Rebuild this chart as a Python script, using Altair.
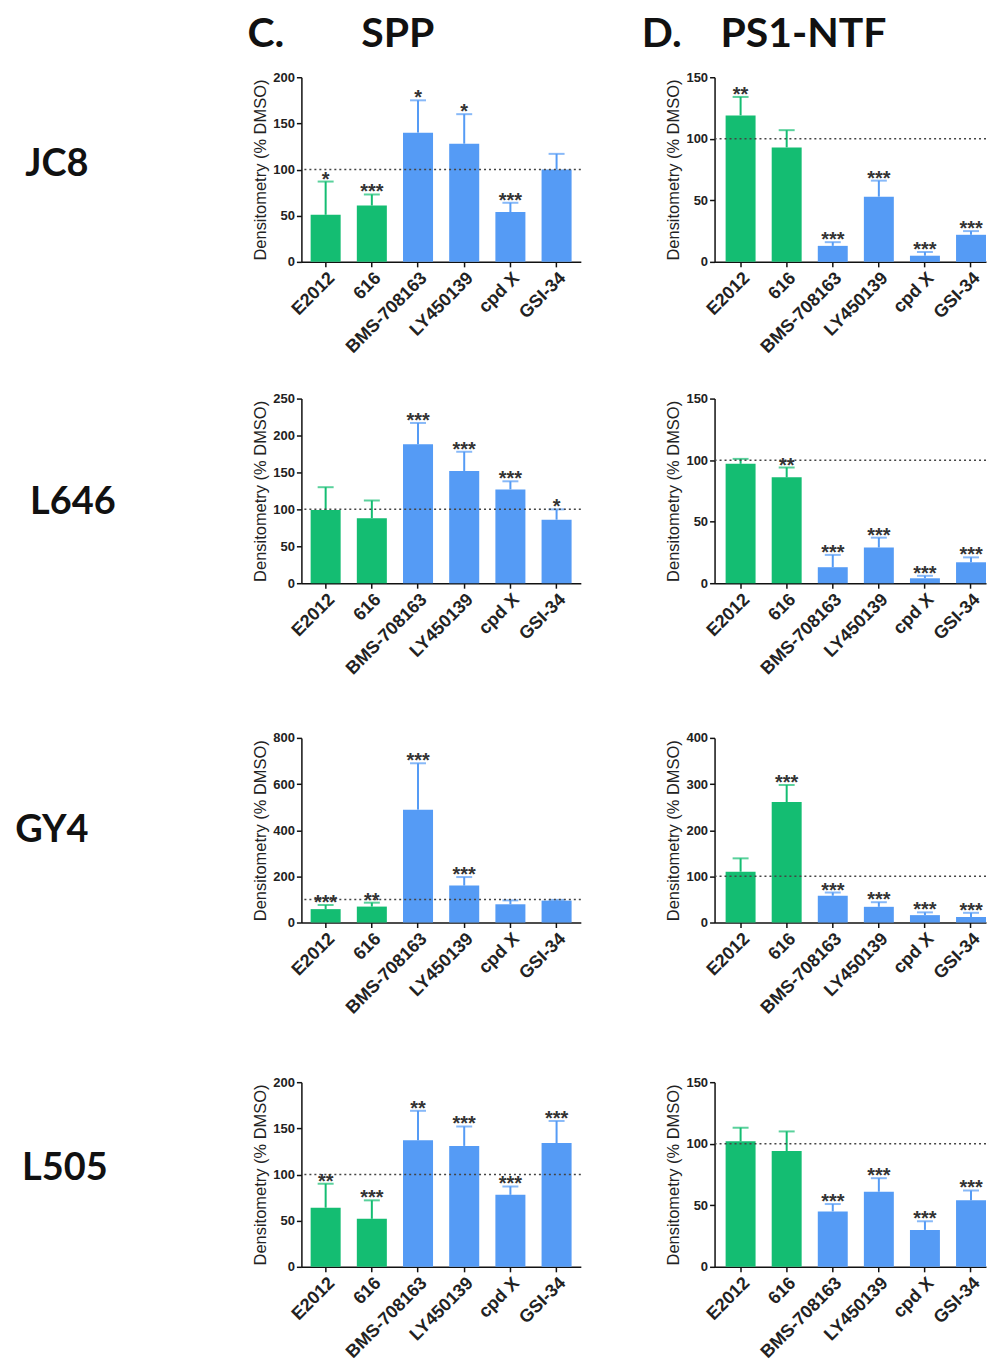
import altair as alt
import pandas as pd

# ---------------- data ----------------
compounds = ["E2012", "616", "BMS-708163", "LY450139", "cpd X", "GSI-34"]
classes = ["GSM", "GSM", "GSI", "GSI", "GSI", "GSI"]
cell_lines = ["JC8", "L646", "GY4", "L505"]

spp_mean = {
    "JC8": [51, 61, 140, 128, 54, 100],
    "L646": [99, 88, 188, 152, 127, 86],
    "GY4": [58, 69, 489, 160, 79, 95],
    "L505": [64, 52, 137, 131, 78, 134],
}
spp_upper = {
    "JC8": [87, 73, 175, 160, 64, 117],
    "L646": [130, 112, 217, 178, 138, 100],
    "GY4": [76, 86, 690, 197, 96, 98],
    "L505": [90, 72, 169, 152, 87, 158],
}
spp_sig = {
    "JC8": ["*", "***", "*", "*", "***", ""],
    "L646": ["", "", "***", "***", "***", "*"],
    "GY4": ["***", "**", "***", "***", "", ""],
    "L505": ["**", "***", "**", "***", "***", "***"],
}
ntf_mean = {
    "JC8": [119, 93, 13, 53, 5, 22],
    "L646": [97, 86, 13, 29, 4, 17],
    "GY4": [110, 261, 58, 34, 16, 12],
    "L505": [102, 94, 45, 61, 30, 54],
}
ntf_upper = {
    "JC8": [134, 107, 16, 66, 8, 25],
    "L646": [101, 94, 23, 37, 6, 21],
    "GY4": [139, 298, 65, 44, 22, 21],
    "L505": [113, 110, 51, 72, 37, 62],
}
ntf_sig = {
    "JC8": ["**", "", "***", "***", "***", "***"],
    "L646": ["", "**", "***", "***", "***", "***"],
    "GY4": ["", "***", "***", "***", "***", "***"],
    "L505": ["", "", "***", "***", "***", "***"],
}
spp_ymax = {"JC8": 200, "L646": 250, "GY4": 800, "L505": 200}
spp_step = {"JC8": 50, "L646": 50, "GY4": 200, "L505": 50}
ntf_ymax = {"JC8": 150, "L646": 150, "GY4": 400, "L505": 150}
ntf_step = {"JC8": 50, "L646": 50, "GY4": 100, "L505": 50}
reference_level = [100]

# ---------------- style / layout ----------------
GREEN = "#14BD72"
BLUE = "#559BF5"
AXIS_FONT = "Liberation Sans"
LABEL_FONT = "Lato"
YTITLE = "Densitometry (% DMSO)"
PLOT_H = 185
ROW_H = {"JC8": 316, "L646": 334, "GY4": 339, "L505": 272}
ROW_LABEL_Y = {"JC8": 88, "L646": 105, "GY4": 93, "L505": 87}
ROW_LABEL_X = {"JC8": 49, "L646": 65, "GY4": 44, "L505": 57}
LABEL_W = 161
HSPACE = 84


def panel(means, upper, sig, ymax, step, width, xscale):
    df = pd.DataFrame({"compound": compounds, "cls": classes,
                       "mean": means, "upper": upper, "sig": sig})
    xenc = alt.X("compound:N", sort=compounds, scale=xscale, title=None,
                 axis=alt.Axis(labelAngle=-45, labelFontSize=18,
                               labelFontWeight="bold", labelColor="#222",
                               labelFont=AXIS_FONT, domainColor="#111",
                               domainWidth=1.5, tickColor="#111",
                               tickWidth=1.5, tickSize=5, labelPadding=2))
    tick_values = list(range(0, ymax + 1, step))
    yscale = alt.Scale(domain=[0, ymax], nice=False, zero=True)
    yaxis = alt.Axis(values=tick_values, tickCount=len(tick_values) + 2,
                     grid=False, labelOverlap=False,
                     labelFontSize=13, labelFontWeight="bold",
                     labelColor="#222", labelFont=AXIS_FONT,
                     titleFont=AXIS_FONT, titleFontSize=16.5,
                     titleFontWeight="normal", titleColor="#222",
                     titlePadding=4, domainColor="#111", domainWidth=1.5,
                     tickColor="#111", tickWidth=1.5, tickSize=5,
                     labelPadding=2)
    color = alt.Color("cls:N", scale=alt.Scale(domain=["GSM", "GSI"],
                                               range=[GREEN, BLUE]),
                      legend=None)
    base = alt.Chart(df)
    bars = base.mark_bar().encode(
        x=xenc, y=alt.Y("mean:Q", scale=yscale, axis=yaxis, title=YTITLE),
        color=color)
    err = base.mark_rule(strokeWidth=2).encode(
        x=xenc, y=alt.Y("mean:Q", scale=yscale, title=YTITLE),
        y2="upper:Q", color=color)
    cap = base.mark_tick(thickness=2, size=16).encode(
        x=xenc, y=alt.Y("upper:Q", scale=yscale, title=YTITLE), color=color)
    stars = base.mark_text(font=AXIS_FONT, fontSize=20, fontWeight="bold",
                           color="#333", baseline="alphabetic", dy=4).encode(
        x=xenc, y=alt.Y("upper:Q", scale=yscale, title=YTITLE), text="sig:N")
    ref = alt.Chart(pd.DataFrame({"level": reference_level})).mark_rule(
        strokeDash=[2, 3], color="#444", strokeWidth=1.5).encode(
        y=alt.Y("level:Q", scale=yscale, title=YTITLE))
    return alt.layer(bars, err, cap, ref, stars).properties(
        width=width, height=PLOT_H)


c_scale = alt.Scale(paddingInner=0.35, paddingOuter=0.2)
d_scale = alt.Scale(paddingInner=0.35, paddingOuter=0.12, align=1)

rows = []
for line in cell_lines:
    lab = alt.Chart(pd.DataFrame({"t": [line]})).mark_text(
        font=LABEL_FONT, fontSize=38, fontWeight="bold", color="#111",
        align="center", baseline="middle").encode(
        text="t:N", x=alt.value(ROW_LABEL_X[line]),
        y=alt.value(ROW_LABEL_Y[line])
    ).properties(width=LABEL_W, height=ROW_H[line])
    c = panel(spp_mean[line], spp_upper[line], spp_sig[line],
              spp_ymax[line], spp_step[line], 280, c_scale)
    d = panel(ntf_mean[line], ntf_upper[line], ntf_sig[line],
              ntf_ymax[line], ntf_step[line], 272, d_scale)
    rows.append(alt.hconcat(lab, c, d, spacing=HSPACE))

hdf = pd.DataFrame({"a": [0]})


def htext(txt, x):
    return alt.Chart(hdf).mark_text(
        font=LABEL_FONT, fontSize=41, fontWeight="bold", color="#111",
        align="left", baseline="middle").encode(
        x=alt.value(x), y=alt.value(26), text=alt.datum(txt))


header = alt.layer(htext("C.", 240), htext("SPP", 354),
                   htext("D.", 635), htext("PS1-NTF", 714)).properties(
    width=975, height=62)

chart = alt.vconcat(header, *rows, spacing=0).properties(
    padding=0, background="white"
).configure_view(stroke=None)

chart.save("out.html", embed_options={"renderer": "svg", "actions": False})
